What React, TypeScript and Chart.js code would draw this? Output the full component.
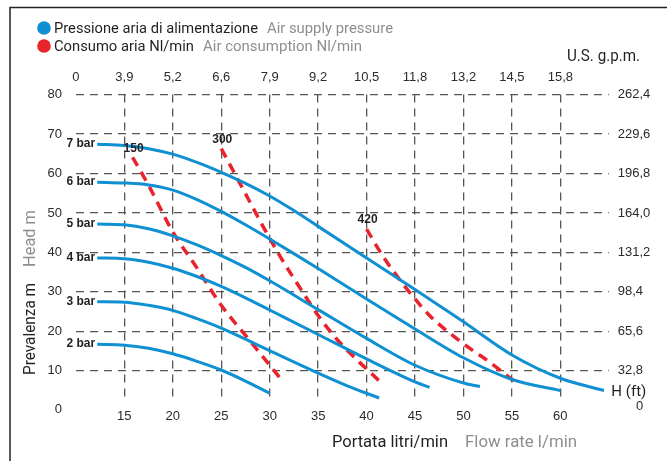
import React, { useEffect, useRef } from 'react';
import { Chart, registerables } from 'chart.js';

Chart.register(...registerables);

// ---- data ----
const flowTicks = [15, 20, 25, 30, 35, 40, 45, 50, 55, 60];
const gpmTicks = [10, 15, 20, 25, 30, 35, 40, 45, 50, 55, 60];
const gpmLabels = ['0', '3,9', '5,2', '6,6', '7,9', '9,2', '10,5', '11,8', '13,2', '14,5', '15,8'];
const headTicks = [10, 20, 30, 40, 50, 60, 70, 80];
const headFtLabels = ['32,8', '65,6', '98,4', '131,2', '164,0', '196,8', '229,6', '262,4'];

const pressureLabels = ['7 bar', '6 bar', '5 bar', '4 bar', '3 bar', '2 bar'];
const bar7 = [[12.2, 67.4], [15, 67.1], [17.5, 66.3], [20, 64.9], [22.5, 62.8], [25, 60.3], [27.5, 57.5], [30, 54.3], [32.5, 50.6], [35, 46.6], [40, 38.6], [45, 30.6], [50, 22.4], [55, 14.0], [60, 8.1], [64.5, 5.0]];
const bar6 = [[12.2, 57.8], [15, 57.6], [17.5, 57.1], [20, 55.8], [22.5, 53.4], [25, 50.4], [27.5, 47.0], [30, 43.4], [32.5, 39.7], [35, 35.9], [40, 28.2], [45, 20.6], [50, 13.3], [55, 7.8], [60, 5.0]];
const bar5 = [[12.2, 47.2], [15, 47.0], [17.5, 46.0], [20, 44.2], [22.5, 41.9], [25, 39.2], [27.5, 36.2], [30, 32.8], [35, 25.5], [40, 18.2], [45, 11.4], [50, 6.9], [51.7, 6.0]];
const bar4 = [[12.2, 38.6], [15, 38.4], [17.5, 37.5], [20, 36.0], [22.5, 33.9], [25, 31.4], [27.5, 28.5], [30, 25.4], [35, 19.2], [40, 13.0], [45, 7.2], [46.5, 5.8]];
const bar3 = [[12.2, 27.5], [15, 27.4], [17.5, 26.6], [20, 25.3], [22.5, 23.2], [25, 20.8], [27.5, 18.0], [30, 15.1], [35, 9.4], [38, 6.2], [41.3, 3.1]];
const bar2 = [[12.2, 16.7], [15, 16.5], [17.5, 15.7], [20, 14.3], [22.5, 12.4], [25, 10.2], [27.5, 7.4], [30, 4.3]];

const airLabels = ['150', '300', '420'];
const air150 = [[15.85, 64.1], [17.5, 57.0], [20, 45.2], [22.4, 36.4], [25, 26.6], [28, 17.5], [31, 8.4]];
const air300 = [[25, 66.3], [27, 57.2], [29, 48.0], [31, 39.3], [33, 31.5], [35, 24.0], [37, 17.8], [39, 12.8], [41.5, 7.0]];
const air420 = [[40, 45.9], [41.7, 39.0], [43.2, 33.8], [44.8, 28.8], [46.55, 23.9], [48.6, 19.5], [50.7, 15.6], [52.7, 12.2], [54.9, 8.0], [55.5, 7.0]];

const pressureCurves = [bar7, bar6, bar5, bar4, bar3, bar2];
const airCurves = [air150, air300, air420];

// ---- styles ----
const BLUE = '#0e90d2';
const RED = '#e8232b';
const DARK = '#231f20';
const GRAY = '#8e8e8e';
const GRID = '#555555';
const TICK_FONT = "'Liberation Sans', Arial, sans-serif";
const TITLE_FONT = "Roboto, 'Noto Sans', sans-serif";

function fitText(ctx: CanvasRenderingContext2D, str: string, x: number, y: number, font: string, color: string, width: number) {
  ctx.save();
  ctx.font = font;
  ctx.fillStyle = color;
  ctx.textAlign = 'left';
  ctx.textBaseline = 'alphabetic';
  const w = ctx.measureText(str).width;
  const k = Math.max(0.6, Math.min(1.2, width / w));
  ctx.translate(x, y);
  ctx.scale(k, 1);
  ctx.fillText(str, 0, 0);
  ctx.restore();
}

const annotPlugin = {
  id: 'annot',
  beforeDraw(chart: any) {
    const ctx = chart.ctx as CanvasRenderingContext2D;
    ctx.save();
    ctx.fillStyle = '#ffffff';
    ctx.fillRect(0, 0, chart.width, chart.height);
    ctx.strokeStyle = '#222';
    ctx.lineWidth = 1.5;
    ctx.beginPath();
    ctx.moveTo(10, chart.height);
    ctx.lineTo(10, 7.5);
    ctx.lineTo(chart.width, 7.5);
    ctx.stroke();
    ctx.restore();
  },
  afterDraw(chart: any) {
    const ctx = chart.ctx as CanvasRenderingContext2D;
    const xs = chart.scales.x;
    const ys = chart.scales.y;
    const area = chart.chartArea;
    ctx.save();

    // pressure curve labels
    ctx.font = `bold 12px ${TICK_FONT}`;
    ctx.fillStyle = DARK;
    ctx.textBaseline = 'middle';
    ctx.textAlign = 'right';
    pressureCurves.forEach((c, i) => {
      const [x0, y0] = c[0];
      ctx.fillText(pressureLabels[i], xs.getPixelForValue(x0) - 2, ys.getPixelForValue(y0) - 0.5);
    });
    // air consumption labels
    ctx.textAlign = 'center';
    airCurves.forEach((c, i) => {
      const [x0, y0] = c[0];
      ctx.fillText(airLabels[i], xs.getPixelForValue(x0) + 1, ys.getPixelForValue(y0) - 9);
    });

    // zero labels
    ctx.font = `13px ${TICK_FONT}`;
    ctx.fillStyle = '#2b2b2b';
    ctx.textAlign = 'right';
    ctx.fillText('0', area.left - 14, ys.getPixelForValue(0) - 1);
    ctx.fillText('0', area.right + 34.5, ys.getPixelForValue(0) - 4);
    ctx.restore();

    // H (ft)
    fitText(ctx, 'H (ft)', area.right + 2.5, ys.getPixelForValue(5) + 5.5, `15px ${TITLE_FONT}`, DARK, 35);

    // legend
    const legend = [
      { color: BLUE, dark: 'Pressione aria di alimentazione', dw: 204, gray: 'Air supply pressure', gx: 267, gw: 126, y: 28 },
      { color: RED, dark: 'Consumo aria Nl/min', dw: 140, gray: 'Air consumption Nl/min', gx: 203, gw: 159, y: 46 },
    ];
    legend.forEach((l) => {
      ctx.save();
      ctx.fillStyle = l.color;
      ctx.beginPath();
      ctx.arc(44, l.y, 6.8, 0, Math.PI * 2);
      ctx.fill();
      ctx.restore();
      fitText(ctx, l.dark, 54, l.y + 5.3, `15px ${TITLE_FONT}`, DARK, l.dw);
      fitText(ctx, l.gray, l.gx, l.y + 5.3, `15px ${TITLE_FONT}`, GRAY, l.gw);
    });

    // top unit
    fitText(ctx, 'U.S. g.p.m.', 567, 60.5, `16px ${TITLE_FONT}`, DARK, 73);

    // x title
    fitText(ctx, 'Portata litri/min', 332, 446.5, `16.5px ${TITLE_FONT}`, DARK, 116);
    fitText(ctx, 'Flow rate l/min', 465, 446.5, `16.5px ${TITLE_FONT}`, GRAY, 112);

    // y title (rotated)
    ctx.save();
    ctx.translate(35, 375);
    ctx.rotate(-Math.PI / 2);
    fitText(ctx, 'Prevalenza m', 0, 0, `16.5px ${TITLE_FONT}`, DARK, 92);
    fitText(ctx, 'Head m', 108, 0, `16.5px ${TITLE_FONT}`, GRAY, 57);
    ctx.restore();
  },
};

export default function App() {
  const ref = useRef<HTMLCanvasElement | null>(null);

  useEffect(() => {
    if (!ref.current) return;
    const toPts = (c: number[][]) => c.map(([x, y]) => ({ x, y }));
    const datasets: any[] = [
      ...pressureCurves.map((c, i) => ({
        label: pressureLabels[i],
        data: toPts(c),
        borderColor: BLUE,
        borderWidth: 3,
        pointRadius: 0,
        fill: false,
        cubicInterpolationMode: 'monotone',
        clip: false,
        xAxisID: 'x',
        yAxisID: 'y',
      })),
      ...airCurves.map((c, i) => ({
        label: airLabels[i],
        data: toPts(c),
        borderColor: RED,
        borderWidth: 3.5,
        borderDash: [10, 7],
        pointRadius: 0,
        fill: false,
        cubicInterpolationMode: 'monotone',
        clip: false,
        xAxisID: 'x',
        yAxisID: 'y',
      })),
    ];

    const tickFont = { family: TICK_FONT, size: 13 };
    const chart = new Chart(ref.current, {
      type: 'line',
      data: { datasets },
      options: {
        responsive: false,
        animation: false,
        parsing: false as any,
        layout: { padding: 0 },
        plugins: { legend: { display: false }, tooltip: { enabled: false } },
        scales: {
          x: {
            type: 'linear',
            position: 'bottom',
            min: 10,
            max: 65,
            afterBuildTicks: (s: any) => { s.ticks = flowTicks.map((v) => ({ value: v })); },
            afterFit: (s: any) => { s.height = 63; },
            ticks: { font: tickFont, color: '#2b2b2b', padding: 11, autoSkip: false, maxRotation: 0, callback: (v: any) => String(v) },
            grid: { color: GRID, lineWidth: 1.3, drawTicks: false },
            border: { display: false, dash: [8, 6] },
          },
          x2: {
            type: 'linear',
            position: 'top',
            min: 10,
            max: 65,
            afterBuildTicks: (s: any) => { s.ticks = gpmTicks.map((v) => ({ value: v })); },
            afterFit: (s: any) => { s.height = 94.6; },
            ticks: { font: tickFont, color: '#2b2b2b', padding: 9, autoSkip: false, maxRotation: 0, callback: (_v: any, i: number) => gpmLabels[i] },
            grid: { display: false, drawTicks: false },
            border: { display: false },
          },
          y: {
            type: 'linear',
            position: 'left',
            min: 3.1,
            max: 80,
            afterBuildTicks: (s: any) => { s.ticks = headTicks.map((v) => ({ value: v })); },
            afterFit: (s: any) => { s.width = 75.9; },
            ticks: { font: tickFont, color: '#2b2b2b', padding: 14, autoSkip: false, callback: (v: any) => String(v) },
            grid: { color: GRID, lineWidth: 1.3, drawTicks: false },
            border: { display: false, dash: [8, 6] },
          },
          y2: {
            type: 'linear',
            position: 'right',
            min: 3.1,
            max: 80,
            afterBuildTicks: (s: any) => { s.ticks = headTicks.map((v) => ({ value: v })); },
            afterFit: (s: any) => { s.width = 58.2; },
            ticks: { font: tickFont, color: '#2b2b2b', padding: 9, autoSkip: false, callback: (_v: any, i: number) => headFtLabels[i] },
            grid: { display: false, drawTicks: false },
            border: { display: false },
          },
        },
      } as any,
      plugins: [annotPlugin],
    });
    return () => chart.destroy();
  }, []);

  return (
    <div style={{ position: 'fixed', left: 0, top: 0, width: 667, height: 461, background: '#fff' }}>
      <canvas ref={ref} width={667} height={461} style={{ display: 'block' }} />
    </div>
  );
}
